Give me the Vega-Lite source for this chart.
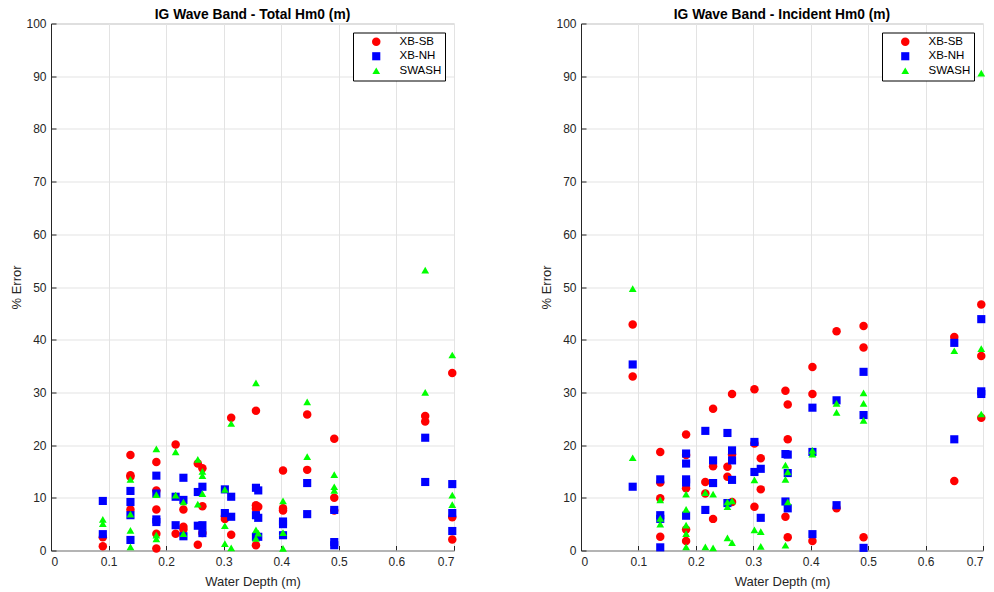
{
  "$schema": "https://vega.github.io/schema/vega-lite/v6.json",
  "padding": {"left": 10, "top": 6.5, "right": 8, "bottom": 3},
  "bounds": "flush",
  "spacing": 127,
  "config": {
    "font": "Liberation Sans",
    "view": {"stroke": "#b8b8b8", "strokeWidth": 1},
    "axis": {
      "grid": true, "gridColor": "#e3e3e3", "gridWidth": 1,
      "labelFont": "Liberation Sans", "labelFontSize": 12, "labelColor": "#262626",
      "titleFont": "Liberation Sans", "titleFontSize": 13, "titleFontWeight": "normal", "titleColor": "#262626",
      "domainColor": "#262626", "tickColor": "#262626", "tickSize": -5
    },
    "title": {"font": "Liberation Sans", "fontSize": 13.8, "fontWeight": "bold", "color": "#000000", "offset": -4, "baseline": "alphabetic", "frame": "group"},
    "legend": {
      "orient": "top-right", "offset": 9, "fillColor": "#ffffff", "strokeColor": "#000000", "strokeWidth": 1,
      "padding": 3.5, "rowPadding": 1.5, "labelFont": "Liberation Sans", "labelFontSize": 11.5, "labelColor": "#000000",
      "symbolOffset": 14, "labelOffset": 17.5, "title": null, "symbolStrokeWidth": 0
    }
  },
  "data": {"values": [
    {"panel":"Total","model":"XB-SB","depth":0.09,"err":2.5},
    {"panel":"Total","model":"XB-SB","depth":0.09,"err":0.8},
    {"panel":"Total","model":"XB-SB","depth":0.138,"err":18.1},
    {"panel":"Total","model":"XB-SB","depth":0.138,"err":14.3},
    {"panel":"Total","model":"XB-SB","depth":0.138,"err":14.0},
    {"panel":"Total","model":"XB-SB","depth":0.138,"err":7.8},
    {"panel":"Total","model":"XB-SB","depth":0.183,"err":16.8},
    {"panel":"Total","model":"XB-SB","depth":0.183,"err":11.4},
    {"panel":"Total","model":"XB-SB","depth":0.183,"err":7.8},
    {"panel":"Total","model":"XB-SB","depth":0.183,"err":3.2},
    {"panel":"Total","model":"XB-SB","depth":0.183,"err":0.4},
    {"panel":"Total","model":"XB-SB","depth":0.2165,"err":20.1},
    {"panel":"Total","model":"XB-SB","depth":0.2165,"err":3.2},
    {"panel":"Total","model":"XB-SB","depth":0.23,"err":7.8},
    {"panel":"Total","model":"XB-SB","depth":0.23,"err":4.5},
    {"panel":"Total","model":"XB-SB","depth":0.23,"err":4.0},
    {"panel":"Total","model":"XB-SB","depth":0.255,"err":16.5},
    {"panel":"Total","model":"XB-SB","depth":0.255,"err":1.1},
    {"panel":"Total","model":"XB-SB","depth":0.263,"err":15.6},
    {"panel":"Total","model":"XB-SB","depth":0.263,"err":8.4},
    {"panel":"Total","model":"XB-SB","depth":0.263,"err":3.3},
    {"panel":"Total","model":"XB-SB","depth":0.302,"err":6.5},
    {"panel":"Total","model":"XB-SB","depth":0.302,"err":6.0},
    {"panel":"Total","model":"XB-SB","depth":0.313,"err":25.2},
    {"panel":"Total","model":"XB-SB","depth":0.313,"err":3.0},
    {"panel":"Total","model":"XB-SB","depth":0.356,"err":26.5},
    {"panel":"Total","model":"XB-SB","depth":0.356,"err":8.6},
    {"panel":"Total","model":"XB-SB","depth":0.356,"err":7.9},
    {"panel":"Total","model":"XB-SB","depth":0.356,"err":1.0},
    {"panel":"Total","model":"XB-SB","depth":0.36,"err":8.3},
    {"panel":"Total","model":"XB-SB","depth":0.403,"err":15.2},
    {"panel":"Total","model":"XB-SB","depth":0.403,"err":8.0},
    {"panel":"Total","model":"XB-SB","depth":0.403,"err":7.6},
    {"panel":"Total","model":"XB-SB","depth":0.445,"err":25.8},
    {"panel":"Total","model":"XB-SB","depth":0.445,"err":15.3},
    {"panel":"Total","model":"XB-SB","depth":0.492,"err":21.2},
    {"panel":"Total","model":"XB-SB","depth":0.492,"err":10.0},
    {"panel":"Total","model":"XB-SB","depth":0.492,"err":7.6},
    {"panel":"Total","model":"XB-SB","depth":0.65,"err":25.5},
    {"panel":"Total","model":"XB-SB","depth":0.65,"err":24.5},
    {"panel":"Total","model":"XB-SB","depth":0.697,"err":33.7},
    {"panel":"Total","model":"XB-SB","depth":0.697,"err":6.3},
    {"panel":"Total","model":"XB-SB","depth":0.697,"err":2.1},
    {"panel":"Total","model":"XB-NH","depth":0.09,"err":9.4},
    {"panel":"Total","model":"XB-NH","depth":0.09,"err":3.1},
    {"panel":"Total","model":"XB-NH","depth":0.138,"err":11.3},
    {"panel":"Total","model":"XB-NH","depth":0.138,"err":9.2},
    {"panel":"Total","model":"XB-NH","depth":0.138,"err":6.7},
    {"panel":"Total","model":"XB-NH","depth":0.138,"err":2.0},
    {"panel":"Total","model":"XB-NH","depth":0.183,"err":14.2},
    {"panel":"Total","model":"XB-NH","depth":0.183,"err":10.8},
    {"panel":"Total","model":"XB-NH","depth":0.183,"err":5.9},
    {"panel":"Total","model":"XB-NH","depth":0.183,"err":5.4},
    {"panel":"Total","model":"XB-NH","depth":0.2165,"err":10.2},
    {"panel":"Total","model":"XB-NH","depth":0.2165,"err":4.8},
    {"panel":"Total","model":"XB-NH","depth":0.23,"err":13.8},
    {"panel":"Total","model":"XB-NH","depth":0.23,"err":9.6},
    {"panel":"Total","model":"XB-NH","depth":0.23,"err":2.7},
    {"panel":"Total","model":"XB-NH","depth":0.255,"err":11.1},
    {"panel":"Total","model":"XB-NH","depth":0.255,"err":4.7},
    {"panel":"Total","model":"XB-NH","depth":0.263,"err":12.1},
    {"panel":"Total","model":"XB-NH","depth":0.263,"err":4.8},
    {"panel":"Total","model":"XB-NH","depth":0.263,"err":3.3},
    {"panel":"Total","model":"XB-NH","depth":0.302,"err":11.6},
    {"panel":"Total","model":"XB-NH","depth":0.302,"err":7.1},
    {"panel":"Total","model":"XB-NH","depth":0.313,"err":10.2},
    {"panel":"Total","model":"XB-NH","depth":0.313,"err":6.4},
    {"panel":"Total","model":"XB-NH","depth":0.356,"err":11.9},
    {"panel":"Total","model":"XB-NH","depth":0.356,"err":6.7},
    {"panel":"Total","model":"XB-NH","depth":0.356,"err":2.6},
    {"panel":"Total","model":"XB-NH","depth":0.36,"err":11.4},
    {"panel":"Total","model":"XB-NH","depth":0.36,"err":6.2},
    {"panel":"Total","model":"XB-NH","depth":0.36,"err":2.6},
    {"panel":"Total","model":"XB-NH","depth":0.403,"err":5.5},
    {"panel":"Total","model":"XB-NH","depth":0.403,"err":5.0},
    {"panel":"Total","model":"XB-NH","depth":0.403,"err":2.9},
    {"panel":"Total","model":"XB-NH","depth":0.445,"err":12.8},
    {"panel":"Total","model":"XB-NH","depth":0.445,"err":6.9},
    {"panel":"Total","model":"XB-NH","depth":0.492,"err":7.7},
    {"panel":"Total","model":"XB-NH","depth":0.492,"err":1.6},
    {"panel":"Total","model":"XB-NH","depth":0.492,"err":1.0},
    {"panel":"Total","model":"XB-NH","depth":0.65,"err":21.4},
    {"panel":"Total","model":"XB-NH","depth":0.65,"err":13.0},
    {"panel":"Total","model":"XB-NH","depth":0.697,"err":12.6},
    {"panel":"Total","model":"XB-NH","depth":0.697,"err":7.1},
    {"panel":"Total","model":"XB-NH","depth":0.697,"err":3.7},
    {"panel":"Total","model":"SWASH","depth":0.09,"err":5.9},
    {"panel":"Total","model":"SWASH","depth":0.09,"err":5.1},
    {"panel":"Total","model":"SWASH","depth":0.138,"err":13.5},
    {"panel":"Total","model":"SWASH","depth":0.138,"err":6.9},
    {"panel":"Total","model":"SWASH","depth":0.138,"err":3.8},
    {"panel":"Total","model":"SWASH","depth":0.138,"err":0.7},
    {"panel":"Total","model":"SWASH","depth":0.183,"err":19.3},
    {"panel":"Total","model":"SWASH","depth":0.183,"err":10.6},
    {"panel":"Total","model":"SWASH","depth":0.183,"err":2.9},
    {"panel":"Total","model":"SWASH","depth":0.183,"err":2.2},
    {"panel":"Total","model":"SWASH","depth":0.2165,"err":18.7},
    {"panel":"Total","model":"SWASH","depth":0.2165,"err":10.5},
    {"panel":"Total","model":"SWASH","depth":0.23,"err":9.2},
    {"panel":"Total","model":"SWASH","depth":0.23,"err":3.2},
    {"panel":"Total","model":"SWASH","depth":0.255,"err":17.3},
    {"panel":"Total","model":"SWASH","depth":0.255,"err":8.8},
    {"panel":"Total","model":"SWASH","depth":0.263,"err":15.0},
    {"panel":"Total","model":"SWASH","depth":0.263,"err":14.2},
    {"panel":"Total","model":"SWASH","depth":0.263,"err":10.8},
    {"panel":"Total","model":"SWASH","depth":0.302,"err":11.6},
    {"panel":"Total","model":"SWASH","depth":0.302,"err":4.7},
    {"panel":"Total","model":"SWASH","depth":0.302,"err":1.3},
    {"panel":"Total","model":"SWASH","depth":0.313,"err":24.1},
    {"panel":"Total","model":"SWASH","depth":0.313,"err":0.5},
    {"panel":"Total","model":"SWASH","depth":0.356,"err":31.8},
    {"panel":"Total","model":"SWASH","depth":0.356,"err":3.9},
    {"panel":"Total","model":"SWASH","depth":0.356,"err":2.3},
    {"panel":"Total","model":"SWASH","depth":0.36,"err":3.3},
    {"panel":"Total","model":"SWASH","depth":0.403,"err":9.4},
    {"panel":"Total","model":"SWASH","depth":0.403,"err":3.4},
    {"panel":"Total","model":"SWASH","depth":0.403,"err":0.4},
    {"panel":"Total","model":"SWASH","depth":0.445,"err":28.2},
    {"panel":"Total","model":"SWASH","depth":0.445,"err":17.8},
    {"panel":"Total","model":"SWASH","depth":0.492,"err":14.4},
    {"panel":"Total","model":"SWASH","depth":0.492,"err":12.1},
    {"panel":"Total","model":"SWASH","depth":0.492,"err":11.4},
    {"panel":"Total","model":"SWASH","depth":0.65,"err":53.2},
    {"panel":"Total","model":"SWASH","depth":0.65,"err":30.0},
    {"panel":"Total","model":"SWASH","depth":0.697,"err":37.1},
    {"panel":"Total","model":"SWASH","depth":0.697,"err":10.5},
    {"panel":"Total","model":"SWASH","depth":0.697,"err":8.7},
    {"panel":"Incident","model":"XB-SB","depth":0.09,"err":42.9},
    {"panel":"Incident","model":"XB-SB","depth":0.09,"err":33.0},
    {"panel":"Incident","model":"XB-SB","depth":0.138,"err":18.7},
    {"panel":"Incident","model":"XB-SB","depth":0.138,"err":12.9},
    {"panel":"Incident","model":"XB-SB","depth":0.138,"err":9.9},
    {"panel":"Incident","model":"XB-SB","depth":0.138,"err":2.6},
    {"panel":"Incident","model":"XB-SB","depth":0.183,"err":22.0},
    {"panel":"Incident","model":"XB-SB","depth":0.183,"err":18.1},
    {"panel":"Incident","model":"XB-SB","depth":0.183,"err":11.8},
    {"panel":"Incident","model":"XB-SB","depth":0.183,"err":4.0},
    {"panel":"Incident","model":"XB-SB","depth":0.183,"err":1.8},
    {"panel":"Incident","model":"XB-SB","depth":0.2165,"err":13.0},
    {"panel":"Incident","model":"XB-SB","depth":0.2165,"err":10.8},
    {"panel":"Incident","model":"XB-SB","depth":0.23,"err":26.9},
    {"panel":"Incident","model":"XB-SB","depth":0.23,"err":16.0},
    {"panel":"Incident","model":"XB-SB","depth":0.23,"err":6.0},
    {"panel":"Incident","model":"XB-SB","depth":0.255,"err":15.9},
    {"panel":"Incident","model":"XB-SB","depth":0.255,"err":14.0},
    {"panel":"Incident","model":"XB-SB","depth":0.263,"err":29.7},
    {"panel":"Incident","model":"XB-SB","depth":0.263,"err":18.2},
    {"panel":"Incident","model":"XB-SB","depth":0.263,"err":9.2},
    {"panel":"Incident","model":"XB-SB","depth":0.302,"err":30.6},
    {"panel":"Incident","model":"XB-SB","depth":0.302,"err":20.3},
    {"panel":"Incident","model":"XB-SB","depth":0.302,"err":8.3},
    {"panel":"Incident","model":"XB-SB","depth":0.313,"err":17.5},
    {"panel":"Incident","model":"XB-SB","depth":0.313,"err":11.6},
    {"panel":"Incident","model":"XB-SB","depth":0.356,"err":30.3},
    {"panel":"Incident","model":"XB-SB","depth":0.356,"err":6.4},
    {"panel":"Incident","model":"XB-SB","depth":0.36,"err":27.7},
    {"panel":"Incident","model":"XB-SB","depth":0.36,"err":21.1},
    {"panel":"Incident","model":"XB-SB","depth":0.36,"err":2.5},
    {"panel":"Incident","model":"XB-SB","depth":0.403,"err":34.8},
    {"panel":"Incident","model":"XB-SB","depth":0.403,"err":29.7},
    {"panel":"Incident","model":"XB-SB","depth":0.403,"err":1.8},
    {"panel":"Incident","model":"XB-SB","depth":0.445,"err":41.6},
    {"panel":"Incident","model":"XB-SB","depth":0.445,"err":8.0},
    {"panel":"Incident","model":"XB-SB","depth":0.492,"err":42.6},
    {"panel":"Incident","model":"XB-SB","depth":0.492,"err":38.5},
    {"panel":"Incident","model":"XB-SB","depth":0.492,"err":2.5},
    {"panel":"Incident","model":"XB-SB","depth":0.65,"err":40.5},
    {"panel":"Incident","model":"XB-SB","depth":0.65,"err":13.2},
    {"panel":"Incident","model":"XB-SB","depth":0.697,"err":46.7},
    {"panel":"Incident","model":"XB-SB","depth":0.697,"err":36.9},
    {"panel":"Incident","model":"XB-SB","depth":0.697,"err":25.2},
    {"panel":"Incident","model":"XB-NH","depth":0.09,"err":35.3},
    {"panel":"Incident","model":"XB-NH","depth":0.09,"err":12.1},
    {"panel":"Incident","model":"XB-NH","depth":0.138,"err":13.5},
    {"panel":"Incident","model":"XB-NH","depth":0.138,"err":6.7},
    {"panel":"Incident","model":"XB-NH","depth":0.138,"err":6.0},
    {"panel":"Incident","model":"XB-NH","depth":0.138,"err":0.6},
    {"panel":"Incident","model":"XB-NH","depth":0.183,"err":18.4},
    {"panel":"Incident","model":"XB-NH","depth":0.183,"err":16.5},
    {"panel":"Incident","model":"XB-NH","depth":0.183,"err":13.5},
    {"panel":"Incident","model":"XB-NH","depth":0.183,"err":12.9},
    {"panel":"Incident","model":"XB-NH","depth":0.183,"err":6.6},
    {"panel":"Incident","model":"XB-NH","depth":0.2165,"err":22.7},
    {"panel":"Incident","model":"XB-NH","depth":0.2165,"err":7.7},
    {"panel":"Incident","model":"XB-NH","depth":0.23,"err":17.1},
    {"panel":"Incident","model":"XB-NH","depth":0.23,"err":12.8},
    {"panel":"Incident","model":"XB-NH","depth":0.255,"err":22.3},
    {"panel":"Incident","model":"XB-NH","depth":0.255,"err":9.0},
    {"panel":"Incident","model":"XB-NH","depth":0.263,"err":19.0},
    {"panel":"Incident","model":"XB-NH","depth":0.263,"err":17.1},
    {"panel":"Incident","model":"XB-NH","depth":0.263,"err":13.4},
    {"panel":"Incident","model":"XB-NH","depth":0.302,"err":20.6},
    {"panel":"Incident","model":"XB-NH","depth":0.302,"err":14.9},
    {"panel":"Incident","model":"XB-NH","depth":0.313,"err":15.5},
    {"panel":"Incident","model":"XB-NH","depth":0.313,"err":6.2},
    {"panel":"Incident","model":"XB-NH","depth":0.356,"err":18.3},
    {"panel":"Incident","model":"XB-NH","depth":0.356,"err":9.3},
    {"panel":"Incident","model":"XB-NH","depth":0.36,"err":18.2},
    {"panel":"Incident","model":"XB-NH","depth":0.36,"err":14.7},
    {"panel":"Incident","model":"XB-NH","depth":0.36,"err":8.0},
    {"panel":"Incident","model":"XB-NH","depth":0.403,"err":27.1},
    {"panel":"Incident","model":"XB-NH","depth":0.403,"err":18.7},
    {"panel":"Incident","model":"XB-NH","depth":0.403,"err":3.1},
    {"panel":"Incident","model":"XB-NH","depth":0.445,"err":28.5},
    {"panel":"Incident","model":"XB-NH","depth":0.445,"err":8.6},
    {"panel":"Incident","model":"XB-NH","depth":0.492,"err":33.9},
    {"panel":"Incident","model":"XB-NH","depth":0.492,"err":25.7},
    {"panel":"Incident","model":"XB-NH","depth":0.492,"err":0.5},
    {"panel":"Incident","model":"XB-NH","depth":0.65,"err":39.4},
    {"panel":"Incident","model":"XB-NH","depth":0.65,"err":21.1},
    {"panel":"Incident","model":"XB-NH","depth":0.697,"err":43.9},
    {"panel":"Incident","model":"XB-NH","depth":0.697,"err":30.2},
    {"panel":"Incident","model":"XB-NH","depth":0.697,"err":29.7},
    {"panel":"Incident","model":"SWASH","depth":0.09,"err":49.7},
    {"panel":"Incident","model":"SWASH","depth":0.09,"err":17.6},
    {"panel":"Incident","model":"SWASH","depth":0.138,"err":9.6},
    {"panel":"Incident","model":"SWASH","depth":0.138,"err":6.1},
    {"panel":"Incident","model":"SWASH","depth":0.138,"err":5.0},
    {"panel":"Incident","model":"SWASH","depth":0.183,"err":10.7},
    {"panel":"Incident","model":"SWASH","depth":0.183,"err":7.8},
    {"panel":"Incident","model":"SWASH","depth":0.183,"err":4.8},
    {"panel":"Incident","model":"SWASH","depth":0.183,"err":3.2},
    {"panel":"Incident","model":"SWASH","depth":0.183,"err":0.7},
    {"panel":"Incident","model":"SWASH","depth":0.2165,"err":11.0},
    {"panel":"Incident","model":"SWASH","depth":0.2165,"err":0.7},
    {"panel":"Incident","model":"SWASH","depth":0.23,"err":10.7},
    {"panel":"Incident","model":"SWASH","depth":0.23,"err":0.5},
    {"panel":"Incident","model":"SWASH","depth":0.255,"err":9.2},
    {"panel":"Incident","model":"SWASH","depth":0.255,"err":8.3},
    {"panel":"Incident","model":"SWASH","depth":0.255,"err":2.4},
    {"panel":"Incident","model":"SWASH","depth":0.263,"err":9.4},
    {"panel":"Incident","model":"SWASH","depth":0.263,"err":1.5},
    {"panel":"Incident","model":"SWASH","depth":0.302,"err":13.4},
    {"panel":"Incident","model":"SWASH","depth":0.302,"err":3.9},
    {"panel":"Incident","model":"SWASH","depth":0.313,"err":3.6},
    {"panel":"Incident","model":"SWASH","depth":0.313,"err":0.8},
    {"panel":"Incident","model":"SWASH","depth":0.356,"err":16.2},
    {"panel":"Incident","model":"SWASH","depth":0.356,"err":13.5},
    {"panel":"Incident","model":"SWASH","depth":0.356,"err":1.0},
    {"panel":"Incident","model":"SWASH","depth":0.36,"err":14.9},
    {"panel":"Incident","model":"SWASH","depth":0.36,"err":9.2},
    {"panel":"Incident","model":"SWASH","depth":0.403,"err":19.0},
    {"panel":"Incident","model":"SWASH","depth":0.403,"err":18.3},
    {"panel":"Incident","model":"SWASH","depth":0.445,"err":27.9},
    {"panel":"Incident","model":"SWASH","depth":0.445,"err":26.2},
    {"panel":"Incident","model":"SWASH","depth":0.492,"err":29.9},
    {"panel":"Incident","model":"SWASH","depth":0.492,"err":27.9},
    {"panel":"Incident","model":"SWASH","depth":0.492,"err":24.7},
    {"panel":"Incident","model":"SWASH","depth":0.65,"err":37.9},
    {"panel":"Incident","model":"SWASH","depth":0.697,"err":90.6},
    {"panel":"Incident","model":"SWASH","depth":0.697,"err":38.3},
    {"panel":"Incident","model":"SWASH","depth":0.697,"err":25.9}
  ]},
  "hconcat": [
    {
      "title": "IG Wave Band - Total Hm0 (m)",
      "width": 403, "height": 527,
      "transform": [{"filter": "datum.panel == 'Total'"}],
      "mark": {"type": "point", "filled": true, "opacity": 1, "strokeWidth": 0},
      "encoding": {
        "x": {"field": "depth", "type": "quantitative", "scale": {"domain": [0, 0.7], "nice": false, "zero": false},
              "axis": {"values": [0, 0.1, 0.2, 0.3, 0.4, 0.5, 0.6, 0.7], "format": ".1~f", "title": "Water Depth (m)", "labelPadding": 11, "titlePadding": 8, "domainColor": "#a6a6a6", "domainWidth": 1.5}},
        "y": {"field": "err", "type": "quantitative", "scale": {"domain": [0, 100], "nice": false},
              "axis": {"values": [0, 10, 20, 30, 40, 50, 60, 70, 80, 90, 100], "title": "% Error", "labelPadding": 10, "titlePadding": 2}},
        "color": {"field": "model", "type": "nominal", "scale": {"domain": ["XB-SB", "XB-NH", "SWASH"], "range": ["#ff0000", "#0000ff", "#00ff00"]}},
        "shape": {"field": "model", "type": "nominal", "scale": {"domain": ["XB-SB", "XB-NH", "SWASH"], "range": ["circle", "square", "triangle-up"]}},
        "size": {"field": "model", "type": "nominal", "scale": {"domain": ["XB-SB", "XB-NH", "SWASH"], "range": [72, 60, 90]}}
      }
    },
    {
      "title": "IG Wave Band - Incident Hm0 (m)",
      "width": 402, "height": 527,
      "transform": [{"filter": "datum.panel == 'Incident'"}],
      "mark": {"type": "point", "filled": true, "opacity": 1, "strokeWidth": 0},
      "encoding": {
        "x": {"field": "depth", "type": "quantitative", "scale": {"domain": [0, 0.7], "nice": false, "zero": false},
              "axis": {"values": [0, 0.1, 0.2, 0.3, 0.4, 0.5, 0.6, 0.7], "format": ".1~f", "title": "Water Depth (m)", "labelPadding": 11, "titlePadding": 8, "domainColor": "#a6a6a6", "domainWidth": 1.5}},
        "y": {"field": "err", "type": "quantitative", "scale": {"domain": [0, 100], "nice": false},
              "axis": {"values": [0, 10, 20, 30, 40, 50, 60, 70, 80, 90, 100], "title": "% Error", "labelPadding": 10, "titlePadding": 2}},
        "color": {"field": "model", "type": "nominal", "scale": {"domain": ["XB-SB", "XB-NH", "SWASH"], "range": ["#ff0000", "#0000ff", "#00ff00"]}},
        "shape": {"field": "model", "type": "nominal", "scale": {"domain": ["XB-SB", "XB-NH", "SWASH"], "range": ["circle", "square", "triangle-up"]}},
        "size": {"field": "model", "type": "nominal", "scale": {"domain": ["XB-SB", "XB-NH", "SWASH"], "range": [72, 60, 90]}}
      }
    }
  ],
  "resolve": {"legend": {"color": "independent", "shape": "independent", "size": "independent"}, "scale": {"color": "independent", "shape": "independent", "size": "independent"}}
}
